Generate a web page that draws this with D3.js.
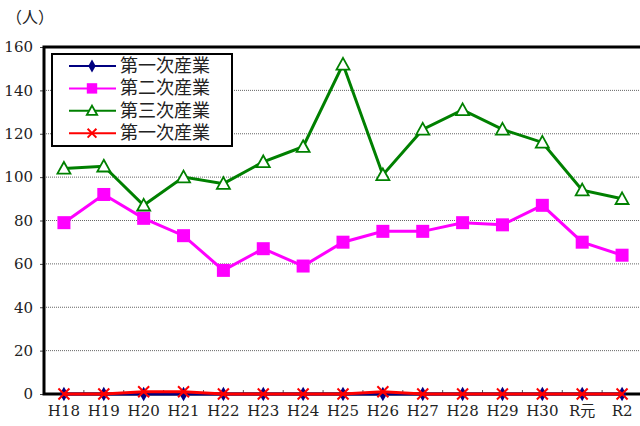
<!DOCTYPE html>
<html>
<head>
<meta charset="utf-8">
<script src="https://cdn.jsdelivr.net/npm/d3@7"></script>
<style>
  body { margin: 0; background: #fff; }
  svg text { font-family: "DejaVu Serif", serif !important; }
  svg text.cjk { font-family: "DejaVu Serif", "Noto Sans CJK JP", serif !important; }
</style>
</head>
<body>
<div id="chart"></div>
<script>
var w = 640;
var h = 426;

// data
var years = ["H18", "H19", "H20", "H21", "H22", "H23", "H24", "H25", "H26", "H27", "H28", "H29", "H30", "R元", "R2"];
var primary = [0, 0, 0, 0, 0, 0, 0, 0, 0, 0, 0, 0, 0, 0, 0];
var secondary = [79, 92, 81, 73, 57, 67, 59, 70, 75, 75, 79, 78, 87, 70, 64];
var tertiary = [104, 105, 87, 100, 97, 107, 114, 152, 101, 122, 131, 122, 116, 94, 90];
var other = [0, 0, 1, 1, 0, 0, 0, 0, 1, 0, 0, 0, 0, 0, 0];
var seriesNames = ["第一次産業", "第二次産業", "第三次産業", "第一次産業"];
var yTicks = [0, 20, 40, 60, 80, 100, 120, 140, 160];

var series = [
    { name: seriesNames[0], values: primary, color: "#000080", marker: "diamond" },
    { name: seriesNames[1], values: secondary, color: "#ff00ff", marker: "square" },
    { name: seriesNames[2], values: tertiary, color: "#008000", marker: "triangle" },
    { name: seriesNames[3], values: other, color: "#ff0000", marker: "cross" }
];

// plot box edges (window.top is reserved, so use other names)
var pLeft = 44, pRight = 642, pTop = 47, pBottom = 394;

var svg = d3.select("#chart")
            .append("svg")
            .attr("width", w)
            .attr("height", h);

var xScale = d3.scaleBand()
    .domain(years)
    .range([pLeft, pRight]);
var yScale = d3.scaleLinear()
    .domain([0, 160])
    .range([pBottom, pTop]);

// grid
svg.append("g")
    .selectAll("line")
    .data(yTicks.filter(function(d) { return d > 0 && d < 160; }))
    .enter()
    .append("line")
    .attr("x1", pLeft)
    .attr("x2", w)
    .attr("y1", function(d) { return yScale(d); })
    .attr("y2", function(d) { return yScale(d); })
    .attr("stroke", "#666")
    .attr("stroke-width", 1)
    .attr("stroke-dasharray", "1,1");

// y axis
var yAxis = d3.axisLeft(yScale)
    .tickValues(yTicks)
    .tickSize(4)
    .tickPadding(7);
var gy = svg.append("g")
    .attr("transform", "translate(" + pLeft + ",0)")
    .call(yAxis);
gy.select(".domain").remove();
gy.selectAll(".tick line").attr("stroke", "#444");
gy.selectAll("text")
    .style("font-size", "15px")
    .attr("fill", "#222");

// x axis
var xAxis = d3.axisBottom(xScale).tickSize(0).tickPadding(11);
var gx = svg.append("g")
    .attr("transform", "translate(0," + pBottom + ")")
    .call(xAxis);
gx.select(".domain").remove();
gx.selectAll("text")
    .attr("class", "cjk")
    .style("font-size", "15px")
    .attr("fill", "#222");

// small ticks between categories
svg.append("g")
    .selectAll("line")
    .data(years.slice(1))
    .enter()
    .append("line")
    .attr("x1", function(d) { return xScale(d); })
    .attr("x2", function(d) { return xScale(d); })
    .attr("y1", pBottom)
    .attr("y2", pBottom - 4)
    .attr("stroke", "#555");

// frame
svg.append("path")
    .attr("d", "M" + w + "," + pTop + "H" + pLeft + "V" + pBottom + "H" + w)
    .attr("fill", "none")
    .attr("stroke", "#000")
    .attr("stroke-width", 3);

svg.append("text")
    .attr("class", "cjk")
    .attr("x", 6)
    .attr("y", 23)
    .style("font-size", "16px")
    .attr("fill", "#222")
    .text("（人）");

function cx(i) { return xScale(years[i]) + xScale.bandwidth() / 2; }

function drawMarker(g, type, color, x, y, big) {
    var s = big ? 1 : 0.8;
    if (type === "diamond") {
        g.append("path")
            .attr("d", d3.symbol(d3.symbolDiamond, 60 * s)())
            .attr("transform", "translate(" + x + "," + y + ")")
            .attr("fill", color);
    } else if (type === "square") {
        var r = 6.5 * s;
        g.append("rect")
            .attr("x", x - r).attr("y", y - r)
            .attr("width", 2 * r).attr("height", 2 * r)
            .attr("fill", color);
    } else if (type === "triangle") {
        var t = 6.5 * s;
        g.append("path")
            .attr("d", "M" + x + "," + (y - t) + "L" + (x + t) + "," + (y + t * 0.8) + "L" + (x - t) + "," + (y + t * 0.8) + "Z")
            .attr("fill", "#fff")
            .attr("stroke", color)
            .attr("stroke-width", 1.8);
    } else {
        var c = 5.5 * s;
        g.append("path")
            .attr("d", "M" + (x - c) + "," + (y - c) + "L" + (x + c) + "," + (y + c) + "M" + (x + c) + "," + (y - c) + "L" + (x - c) + "," + (y + c))
            .attr("stroke", color)
            .attr("stroke-width", 2);
    }
}

var line = d3.line()
    .x(function(d, i) { return cx(i); })
    .y(function(d) { return yScale(d); });

series.forEach(function(s) {
    var g = svg.append("g");
    g.append("path")
        .datum(s.values)
        .attr("d", line)
        .attr("fill", "none")
        .attr("stroke", s.color)
        .attr("stroke-width", 3);
    s.values.forEach(function(v, i) {
        drawMarker(g, s.marker, s.color, cx(i), yScale(v), true);
    });
});

// legend
var lg = svg.append("g");
lg.append("rect")
    .attr("x", 52).attr("y", 54)
    .attr("width", 180).attr("height", 92)
    .attr("fill", "#fff")
    .attr("stroke", "#000")
    .attr("stroke-width", 2);
series.forEach(function(s, i) {
    var y = 66 + i * 22.4;
    lg.append("line")
        .attr("x1", 69).attr("x2", 116)
        .attr("y1", y).attr("y2", y)
        .attr("stroke", s.color)
        .attr("stroke-width", 2);
    drawMarker(lg, s.marker, s.color, 92, y, false);
    lg.append("text")
        .attr("class", "cjk")
        .attr("x", 120)
        .attr("y", y + 6)
        .style("font-size", "18px")
        .attr("fill", "#222")
        .text(s.name);
});
</script>
</body>
</html>
